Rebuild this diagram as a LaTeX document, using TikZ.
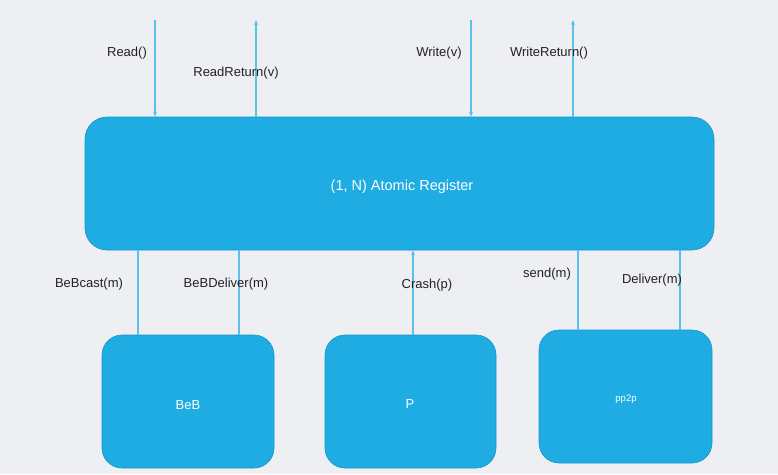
\documentclass[tikz,border=0pt]{standalone}
\usepackage{fontspec}
\setmainfont{Liberation Sans}
\usetikzlibrary{arrows.meta}
\definecolor{bg}{HTML}{EDEFF2}
\definecolor{boxfill}{HTML}{1EACE3}
\definecolor{boxedge}{HTML}{1A95C6}
\definecolor{wire}{HTML}{5BC0EA}
\definecolor{ink}{HTML}{222222}
\begin{document}
\begin{tikzpicture}[x=1pt,y=-1pt,
  blk/.style={draw=boxedge,line width=0.6pt,fill=boxfill,rounded corners=20pt,inner sep=0pt},
  blktext/.style={text=white,font=\fontsize{13}{15}\selectfont},
  wireln/.style={draw=wire,line width=1.1pt},
  arr/.style={wireln,-{Stealth[length=5pt,width=4pt]}},
  lbl/.style={text=ink,font=\fontsize{13}{15}\selectfont,inner sep=0pt}]
\fill[bg] (0,0) rectangle (778,474);
\useasboundingbox (0,0) rectangle (778,474);
% blocks
\node[blk,minimum width=629pt,minimum height=133pt,rounded corners=22pt] (reg) at (399.5,183.5) {};
\node[blktext,font=\fontsize{14.5}{17}\selectfont] (regt) at (402,187) {(1, N) Atomic Register};
\node[blk,minimum width=172pt,minimum height=133pt] (beb) at (188,401.5) {};
\node[blktext] (bebt) at (188,405) {BeB};
\node[blk,minimum width=171pt,minimum height=133pt] (p) at (410.5,401.5) {};
\node[blktext] (pt) at (410,404) {P};
\node[blk,minimum width=173pt,minimum height=133pt] (pp) at (625.5,396.5) {};
\node[blktext,font=\fontsize{9.5}{11}\selectfont] (ppt) at (626,399.5) {pp2p};
% top coordinates
\coordinate (r0) at (155,20);
\coordinate (rr0) at (256,20);
\coordinate (w0) at (471,20);
\coordinate (wr0) at (573,20);
\draw[arr] (r0) -- (r0 |- reg.north);
\draw[arr] (rr0 |- reg.north) -- (rr0);
\draw[arr] (w0) -- (w0 |- reg.north);
\draw[arr] (wr0 |- reg.north) -- (wr0);
% bottom
\coordinate (b1) at (138,300);
\coordinate (b2) at (239,300);
\coordinate (c1) at (413,300);
\coordinate (s1) at (578,300);
\coordinate (s2) at (680,300);
\draw[wireln] (b1 |- reg.south) -- (b1 |- beb.north);
\draw[wireln] (b2 |- reg.south) -- (b2 |- beb.north);
\draw[arr] (c1 |- p.north) -- (c1 |- reg.south);
\draw[wireln] (s1 |- reg.south) -- (s1 |- pp.north);
\draw[wireln] (s2 |- reg.south) -- (s2 |- pp.north);
% labels
\node[lbl] (l1) at (127,53.5) {Read()};
\node[lbl] (l2) at (236,73.5) {ReadReturn(v)};
\node[lbl] (l3) at (439,53.5) {Write(v)};
\node[lbl] (l4) at (549,53.5) {WriteReturn()};
\node[lbl] (l5) at (89,284.5) {BeBcast(m)};
\node[lbl] (l6) at (226,284.5) {BeBDeliver(m)};
\node[lbl] (l7) at (427,285.5) {Crash(p)};
\node[lbl] (l8) at (547,274.5) {send(m)};
\node[lbl] (l9) at (652,280.5) {Deliver(m)};
\end{tikzpicture}
\end{document}
